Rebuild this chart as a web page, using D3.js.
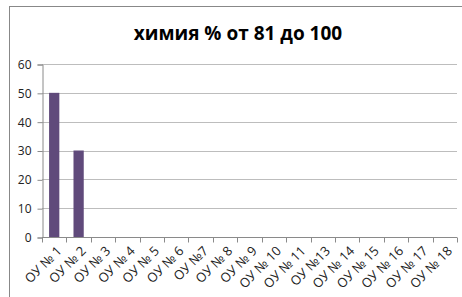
<!DOCTYPE html>
<html>
<head>
<meta charset="utf-8">
<script src="https://cdn.jsdelivr.net/npm/d3@7"></script>
<style>
  body { margin: 0; background: #fff; }
  text { font-family: "Open Sans", "Liberation Sans", sans-serif; }
</style>
</head>
<body>
<div id="chart"></div>
<script>
const categories = ["ОУ № 1", "ОУ № 2", "ОУ № 3", "ОУ № 4", "ОУ № 5", "ОУ № 6", "ОУ №7", "ОУ № 8",
  "ОУ № 9", "ОУ № 10", "ОУ № 11", "ОУ №13", "ОУ № 14", "ОУ № 15", "ОУ № 16", "ОУ № 17", "ОУ № 18"];
const values = [50, 30, 0, 0, 0, 0, 0, 0, 0, 0, 0, 0, 0, 0, 0, 0, 0];
const yTicks = [0, 10, 20, 30, 40, 50, 60];
const title = "химия % от 81 до 100";

const width = 462, height = 297;
const margin = {left: 42, right: 5, top: 64, bottom: 60};

const svg = d3.select("#chart").append("svg")
  .attr("width", width)
  .attr("height", height);

// outer frame
svg.append("rect")
  .attr("x", 9.5).attr("y", 6.5)
  .attr("width", width).attr("height", height)
  .attr("fill", "none")
  .attr("stroke", "#888")
  .attr("stroke-width", 1);

const x = d3.scaleBand()
  .domain(categories)
  .range([margin.left, width - margin.right])
  .paddingInner(0.58).paddingOuter(0.29);

const y = d3.scaleLinear()
  .domain([0, 60])
  .range([height - margin.bottom, margin.top]);

// gridlines
svg.append("g")
  .selectAll("line")
  .data(yTicks.slice(1))
  .join("line")
    .attr("x1", margin.left).attr("x2", width - margin.right)
    .attr("y1", d => Math.round(y(d)) + 0.5).attr("y2", d => Math.round(y(d)) + 0.5)
    .attr("stroke", "#bdbdbd");

// y axis
const yAxis = svg.append("g")
  .attr("transform", `translate(${margin.left + 0.5},0.5)`)
  .call(d3.axisLeft(y).tickValues(yTicks).tickSize(5).tickPadding(6).tickFormat(d3.format("d")));
yAxis.select(".domain").attr("stroke", "#8a8a8a");
yAxis.selectAll(".tick line").attr("stroke", "#8a8a8a");
yAxis.selectAll("text").attr("font-size", 12).attr("fill", "#222");

// bars
svg.append("g")
  .selectAll("rect")
  .data(values)
  .join("rect")
    .attr("x", (d, i) => x(categories[i]))
    .attr("y", d => y(d))
    .attr("width", x.bandwidth())
    .attr("height", d => y(0) - y(d))
    .attr("fill", "#604a7b");

// x axis
const step = x.step();
const xAxis = svg.append("g")
  .attr("transform", `translate(0,${Math.round(y(0)) + 0.5})`);
xAxis.append("line")
  .attr("x1", margin.left).attr("x2", width - margin.right)
  .attr("stroke", "#8a8a8a");
xAxis.selectAll(".tk")
  .data(d3.range(categories.length + 1))
  .join("line")
    .attr("class", "tk")
    .attr("x1", i => Math.round(margin.left + i * step) + 0.5)
    .attr("x2", i => Math.round(margin.left + i * step) + 0.5)
    .attr("y1", 0).attr("y2", 5)
    .attr("stroke", "#8a8a8a");
xAxis.selectAll("text")
  .data(categories)
  .join("text")
    .attr("transform", d => `translate(${x(d) + x.bandwidth() / 2 + 5},11) rotate(-45)`)
    .attr("text-anchor", "end")
    .attr("font-size", 13)
    .attr("fill", "#222")
    .attr("dy", "0.35em")
    .text(d => d);

// title
svg.append("text")
  .attr("x", 238).attr("y", 40)
  .attr("text-anchor", "middle")
  .attr("font-size", 19)
  .attr("font-weight", "bold")
  .attr("fill", "#000")
  .text(title);
</script>
</body>
</html>
